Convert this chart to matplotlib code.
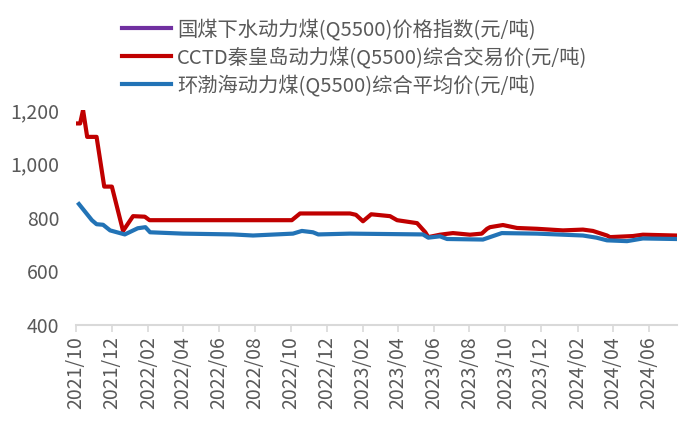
import matplotlib
matplotlib.use("Agg")
import matplotlib.pyplot as plt
import matplotlib.dates as mdates
import matplotlib.ticker as mticker
import pandas as pd

plt.rcParams['font.family'] = ['Noto Sans CJK SC', 'DejaVu Sans']

# series labels
names = ["国煤下水动力煤(Q5500)价格指数(元/吨)",
         "CCTD秦皇岛动力煤(Q5500)综合交易价(元/吨)",
         "环渤海动力煤(Q5500)综合平均价(元/吨)"]

# 国煤下水: no visible data in the picture
gm_dates = []
gm_vals = []

cctd_dates = ["2021-10-01", "2021-10-08", "2021-10-13", "2021-10-20", "2021-11-05",
              "2021-11-18", "2021-12-01", "2021-12-20", "2022-01-06", "2022-01-26",
              "2022-02-03", "2022-10-03", "2022-10-17", "2023-01-10", "2023-01-20",
              "2023-02-01", "2023-02-15", "2023-03-19", "2023-03-31", "2023-05-04",
              "2023-05-18", "2023-05-23", "2023-06-12", "2023-07-04", "2023-08-02",
              "2023-08-22", "2023-08-31", "2023-09-05", "2023-09-27", "2023-10-21",
              "2023-11-24", "2024-01-07", "2024-02-10", "2024-02-27", "2024-03-22",
              "2024-03-27", "2024-05-05", "2024-05-22", "2024-07-16"]
cctd_vals = [1150, 1150, 1200, 1100, 1100,
             915, 915, 750, 805, 803,
             790, 790, 815, 815, 810,
             786, 812, 805, 790, 779,
             745, 727, 736, 742, 736,
             740, 758, 764, 772, 761,
             758, 752, 755, 750, 733,
             727, 731, 736, 733]

bh_dates = ["2021-10-06", "2021-10-28", "2021-11-05", "2021-11-16", "2021-11-28",
            "2021-12-23", "2022-01-14", "2022-01-27", "2022-02-04", "2022-04-01",
            "2022-06-25", "2022-07-29", "2022-10-05", "2022-10-20", "2022-11-08",
            "2022-11-17", "2023-01-10", "2023-05-14", "2023-05-23", "2023-06-12",
            "2023-06-24", "2023-08-24", "2023-09-05", "2023-09-25", "2023-11-24",
            "2024-02-10", "2024-03-04", "2024-03-22", "2024-04-25", "2024-05-22",
            "2024-07-16"]
bh_vals = [850, 790, 775, 773, 752,
           737, 760, 764, 745, 740,
           737, 733, 740, 750, 745,
           737, 740, 737, 725, 730,
           720, 718, 727, 742, 740,
           733, 725, 715, 712, 722,
           720]

fig = plt.figure(figsize=(7, 4.26), dpi=100)
ax = fig.add_axes([76 / 700, 1 - 325 / 426, (677 - 76) / 700, (325 - 110) / 426])

ax.plot(pd.to_datetime(gm_dates), gm_vals, color="#7030A0", lw=3, label=names[0])
ax.plot(pd.to_datetime(cctd_dates), cctd_vals, color="#C00000", lw=3, label=names[1])
ax.plot(pd.to_datetime(bh_dates), bh_vals, color="#2273B6", lw=3, label=names[2])

ax.set_ylim(400, 1200)
ax.set_xlim(pd.Timestamp("2021-10-01"), pd.Timestamp("2024-07-19"))
ax.yaxis.set_major_locator(mticker.MultipleLocator(200))
ax.yaxis.set_major_formatter(mticker.FuncFormatter(lambda v, p: f"{int(v):,}"))
ax.xaxis.set_major_locator(mdates.MonthLocator(bymonth=[2, 4, 6, 8, 10, 12]))
ax.xaxis.set_major_formatter(mdates.DateFormatter("%Y/%m"))

for s in ["top", "right", "left"]:
    ax.spines[s].set_visible(False)
ax.spines["bottom"].set_color("#D9D9D9")
ax.spines["bottom"].set_linewidth(1.5)
ax.tick_params(axis="y", length=0, labelsize=14, labelcolor="#595959", pad=12)
ax.tick_params(axis="x", length=5, width=1.2, color="#D9D9D9", labelsize=14,
               labelcolor="#595959", labelrotation=90, pad=3)

fig.legend(loc="upper left", bbox_to_anchor=(112 / 700, 1 - 8 / 426), frameon=False,
           fontsize=14.6, handlelength=2.4, handletextpad=0.3, labelspacing=0.3,
           labelcolor="#595959", borderpad=0)

fig.savefig("out.png", dpi=100)
